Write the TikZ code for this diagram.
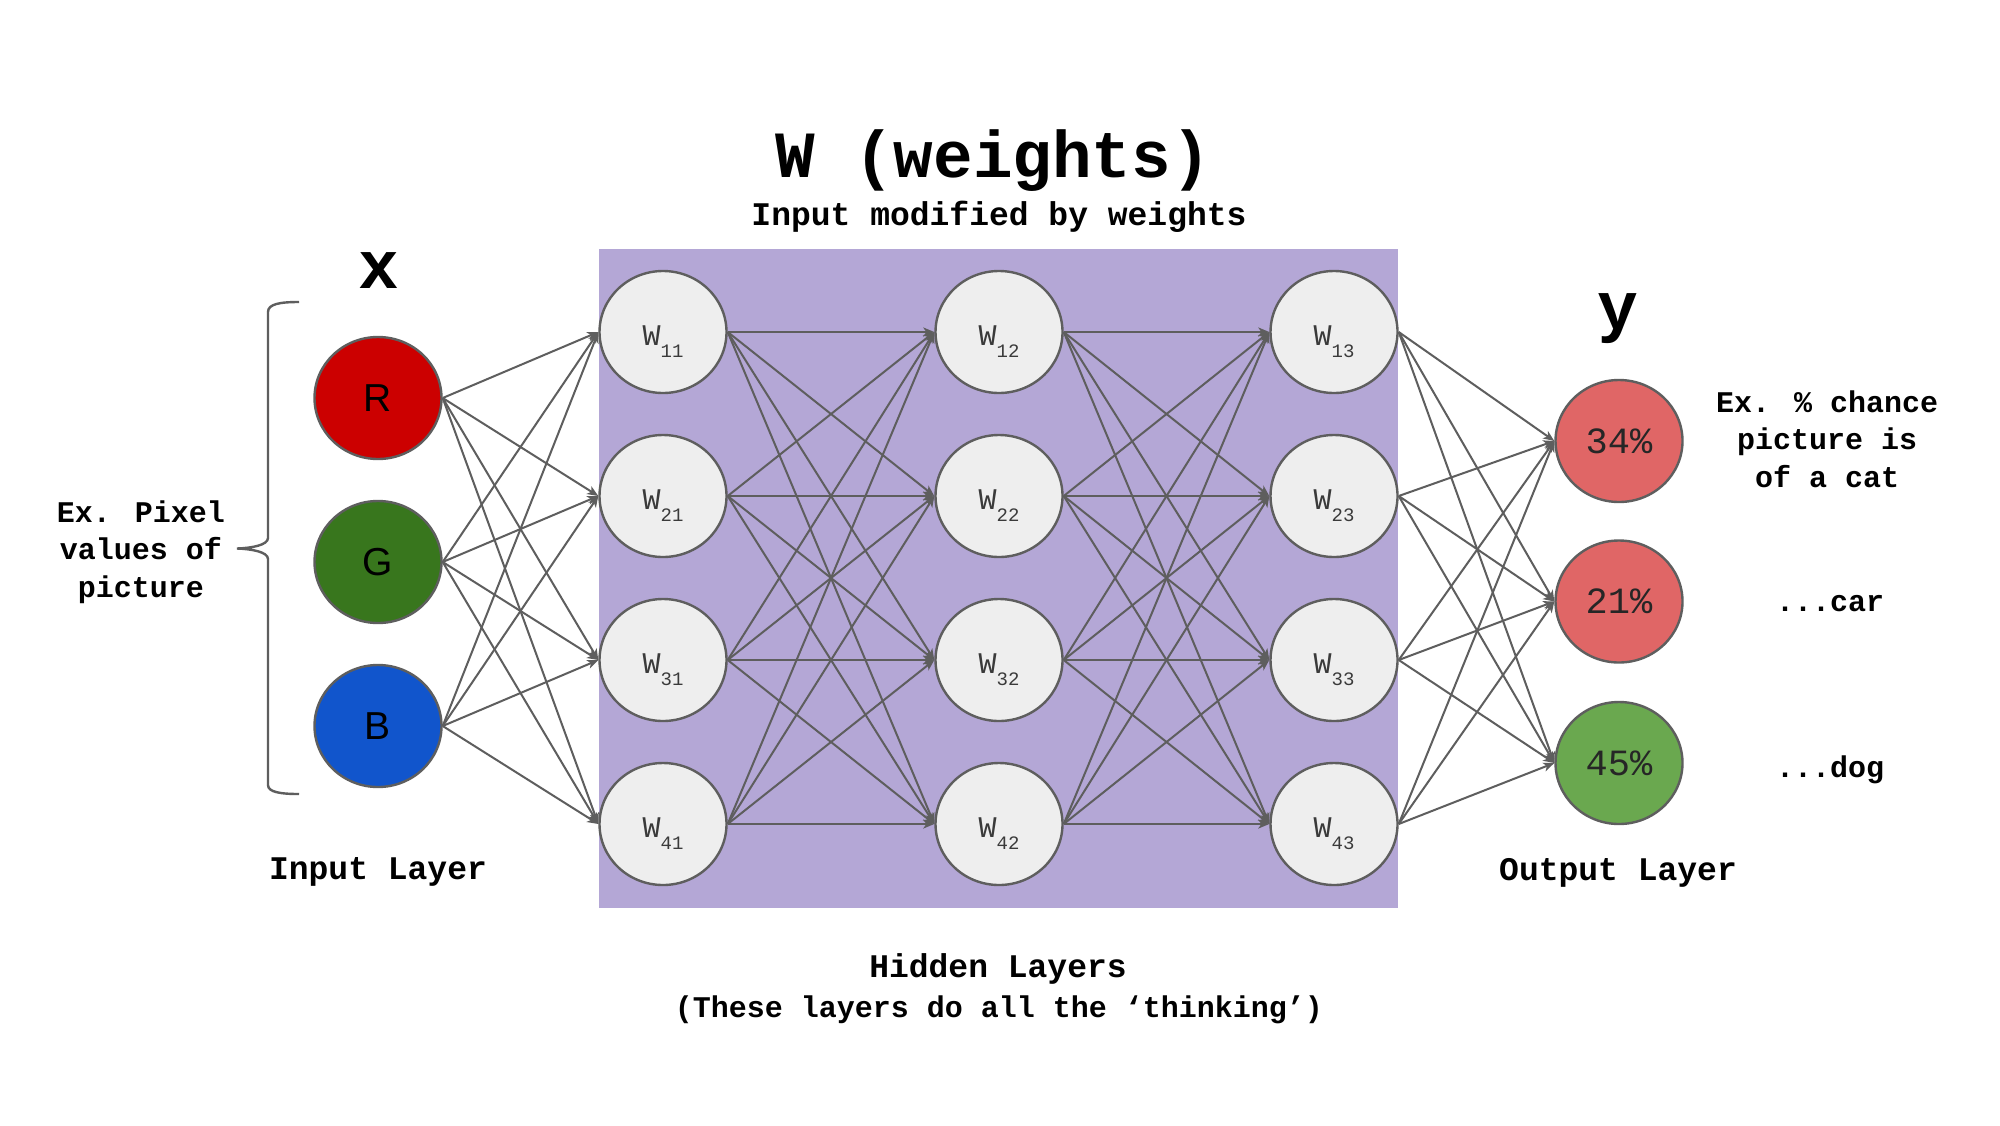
\documentclass[tikz,border=0pt]{standalone}
\usepackage{fontspec}
\newfontfamily\mono{Liberation Mono}
\newfontfamily\sansf{Liberation Sans}
\usetikzlibrary{arrows.meta,shapes.geometric}
\definecolor{purp}{HTML}{B4A7D6}
\definecolor{hidfill}{HTML}{EEEEEE}
\definecolor{edge}{HTML}{5E5E5E}
\definecolor{rcol}{HTML}{CC0000}
\definecolor{gcol}{HTML}{38761D}
\definecolor{bcol}{HTML}{1155CC}
\definecolor{ored}{HTML}{E06666}
\definecolor{ogreen}{HTML}{6AA84F}
\definecolor{wtext}{HTML}{3A3A3A}
\newcommand\wsub[1]{W\raisebox{-6pt}{\fontsize{9.5pt}{10pt}\selectfont #1}}
\tikzset{
  neuron/.style={ellipse, draw=edge, line width=1.2pt, minimum width=63.5pt, minimum height=61pt, inner sep=0pt},
  innode/.style={neuron, font=\sansf\fontsize{19.5pt}{20pt}\selectfont},
  hid/.style={neuron, fill=hidfill, text=wtext, font=\mono\fontsize{15pt}{15pt}\selectfont, text height=13pt, text depth=0pt},
  outnode/.style={neuron, text=black!85, font=\mono\fontsize{18.5pt}{19pt}\selectfont},
  conn/.style={draw=edge, line width=1pt, -{Stealth[length=5.5pt,width=4.5pt,inset=1.5pt]}},
  bigtxt/.style={anchor=base, inner sep=0pt, font=\mono\bfseries\fontsize{33pt}{33pt}\selectfont},
  lbl/.style={anchor=base, inner sep=0pt, font=\mono\bfseries\fontsize{16.5pt}{17pt}\selectfont},
  side/.style={anchor=base, inner sep=0pt, font=\mono\bfseries\fontsize{15pt}{16pt}\selectfont},
}
\begin{document}
\begin{tikzpicture}[x=0.5pt,y=-0.5pt]
\useasboundingbox (0,0) rectangle (2000,1125);
\fill[white] (0,0) rectangle (2000,1125);
% hidden area
\fill[purp] (599,249) rectangle (1398,908);
% titles
\node[bigtxt] (title) at (993,177) {W (weights)};
\node[lbl] (subtitle) at (999,225) {Input modified by weights};
\node[bigtxt,font=\mono\bfseries\fontsize{34pt}{34pt}\selectfont] (xlab) at (378.5,288) {x};
\node[bigtxt,font=\mono\bfseries\fontsize{34pt}{34pt}\selectfont] (ylab) at (1617.5,329) {y};
% input nodes
\node[innode, fill=rcol] (in1) at (378,398) {R};
\node[innode, fill=gcol] (in2) at (378,562) {G};
\node[innode, fill=bcol] (in3) at (378,726) {B};
% hidden nodes
\foreach \c/\x in {1/663,2/999,3/1334}{
  \foreach \r/\y in {1/332,2/496,3/660,4/824}{
    \node[hid] (h\r\c) at (\x,\y) {\wsub{\r\c}};
  }
}
% output nodes
\node[outnode, fill=ored] (out1) at (1619,441) {34\%};
\node[outnode, fill=ored] (out2) at (1619,601.5) {21\%};
\node[outnode, fill=ogreen] (out3) at (1619,763) {45\%};
% connectors
\foreach \i in {1,2,3}{
  \foreach \j in {1,2,3,4}{
    \draw[conn] (in\i.east) -- (h\j1.west);
  }
}
\foreach \i in {1,2,3,4}{
  \foreach \j in {1,2,3,4}{
    \draw[conn] (h\i1.east) -- (h\j2.west);
    \draw[conn] (h\i2.east) -- (h\j3.west);
  }
}
\foreach \i in {1,2,3,4}{
  \foreach \j in {1,2,3}{
    \draw[conn] (h\i3.east) -- (out\j.west);
  }
}
% brace
\draw[edge, line width=1.2pt] (299,302) .. controls (280,302) and (268,304) .. (268,312)
  -- (268,538) .. controls (268,545) and (252,548) .. (237,548.5)
  .. controls (252,549) and (268,552) .. (268,559)
  -- (268,785) .. controls (268,792) and (280,794) .. (299,794);
% labels
\node[side] (ex1) at (141,522) {Ex. Pixel};
\node[side] (ex2) at (141,559.5) {values of};
\node[side] (ex3) at (141,597) {picture};
\node[lbl] (inlayer) at (378,879) {Input Layer};
\node[lbl] (outlayer) at (1618,880) {Output Layer};
\node[lbl] (hidlayer) at (998,977) {Hidden Layers};
\node[side] (hidnote) at (999,1017) {(These layers do all the ‘thinking’)};
\node[side] (cat1) at (1827,412) {Ex. \% chance};
\node[side] (cat2) at (1827,449.5) {picture is};
\node[side] (cat3) at (1827,487) {of a cat};
\node[side] (car) at (1830,611.5) {...car};
\node[side] (dog) at (1830,777) {...dog};
\end{tikzpicture}
\end{document}
